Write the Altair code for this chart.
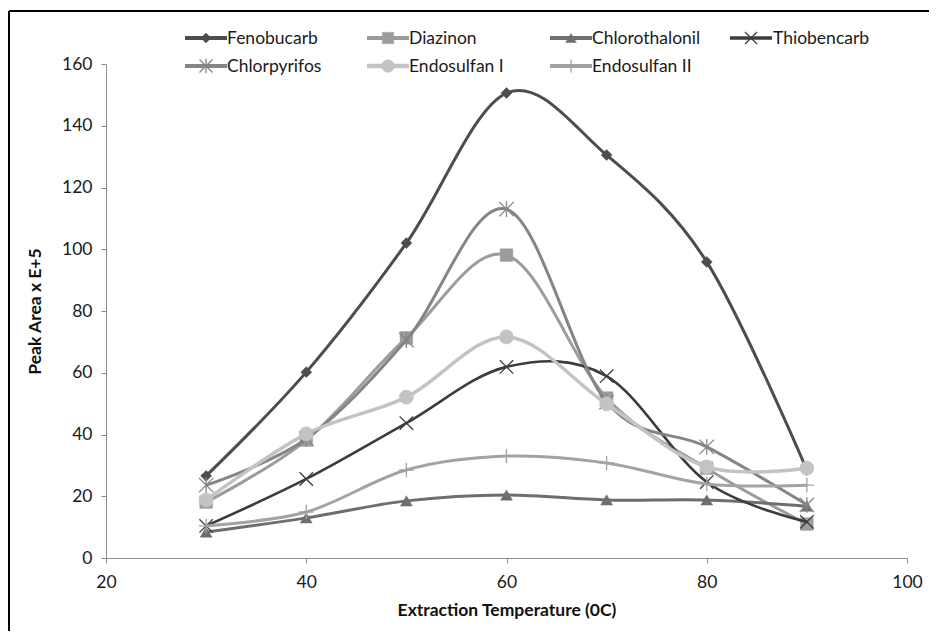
import altair as alt
import pandas as pd

temps = [30, 40, 50, 60, 70, 80, 90]
series_names = ["Fenobucarb", "Diazinon", "Chlorothalonil", "Thiobencarb",
                "Chlorpyrifos", "Endosulfan I", "Endosulfan II"]
fenobucarb = [26.6, 60.2, 102, 150.6, 130.5, 95.9, 28.5]
diazinon = [18.1, 38.2, 71.3, 98.1, 51.8, 29.1, 11]
chlorothalonil = [8.4, 13, 18.5, 20.4, 18.8, 18.8, 16.8]
thiobencarb = [10.4, 25.6, 43.7, 61.9, 58.9, 24.6, 11.7]
chlorpyrifos = [23.6, 38.6, 70.6, 113, 50.5, 36, 17.2]
endosulfan_1 = [18.8, 40.2, 52.1, 71.6, 49.9, 29.5, 29.1]
endosulfan_2 = [10.4, 14.9, 28.5, 33, 30.8, 24, 23.6]
values = [fenobucarb, diazinon, chlorothalonil, thiobencarb,
          chlorpyrifos, endosulfan_1, endosulfan_2]
x_ticks = [20, 40, 60, 80, 100]
y_ticks = [0, 20, 40, 60, 80, 100, 120, 140, 160]

XSHAPE = "M-1,-1L1,1M-1,1L1,-1"
ASTER = "M-1,-1L1,1M-1,1L1,-1M0,-1.1L0,1.1"
PLUS = "M0,-1L0,1M-1,0L1,0"

styles = [
    dict(color="#4d4d4d", sw=3, shape="diamond", filled=True, size=120),
    dict(color="#9c9c9c", sw=3, shape="square", filled=True, size=160),
    dict(color="#6e6e6e", sw=3, shape="triangle-up", filled=True, size=140),
    dict(color="#3c3c3c", sw=2.6, shape=XSHAPE, filled=False, size=180),
    dict(color="#858585", sw=3, shape=ASTER, filled=False, size=210),
    dict(color="#c3c3c3", sw=3.5, shape="circle", filled=True, size=200),
    dict(color="#a3a3a3", sw=3, shape=PLUS, filled=False, size=210),
]

FONT = "Lato"
FS = 17.5
W, H = 801, 494

x_enc = alt.X("temp:Q", scale=alt.Scale(domain=[20, 100], nice=False),
              axis=alt.Axis(values=x_ticks, title="Extraction Temperature (0C)",
                            grid=False, tickSize=5, labelPadding=10,
                            labelFlush=False, titlePadding=11))
y_enc = alt.Y("value:Q", scale=alt.Scale(domain=[0, 160], nice=False),
              axis=alt.Axis(values=y_ticks, title="Peak Area x E+5",
                            grid=False, tickSize=5, labelPadding=9,
                            labelFlush=False, titlePadding=17))

layers = []
for name, vals, st in zip(series_names, values, styles):
    df = pd.DataFrame({"temp": temps, "value": vals, "series": name})
    base = alt.Chart(df)
    layers.append(base.mark_line(interpolate="cardinal", tension=0,
                                 color=st["color"], strokeWidth=st["sw"])
                  .encode(x=x_enc, y=y_enc))
    pt_kwargs = dict(shape=st["shape"], size=st["size"], opacity=1)
    if st["filled"]:
        pt_kwargs.update(filled=True, fill=st["color"], stroke=st["color"],
                         strokeWidth=0.5)
    else:
        pt_kwargs.update(filled=False, stroke=st["color"], strokeWidth=1.3)
    layers.append(base.mark_point(**pt_kwargs).encode(x=x_enc, y=y_enc))

# custom legend (line + marker + label), two rows of four columns
sym_x = [79, 261, 444, 624]
txt_x = [121, 303, 486, 667]
row_y = [-26, 2]
for i, (name, st) in enumerate(zip(series_names, styles)):
    r, c = divmod(i, 4)
    ldf = pd.DataFrame({"series": [name]})
    lb = alt.Chart(ldf)
    y = row_y[r]
    layers.append(lb.mark_rule(color=st["color"], strokeWidth=st["sw"] + 1)
                  .encode(x=alt.value(sym_x[c]), x2=alt.value(sym_x[c] + 42),
                          y=alt.value(y)))
    pt_kwargs = dict(shape=st["shape"], size=st["size"] * 0.8, opacity=1)
    if st["filled"]:
        pt_kwargs.update(filled=True, fill=st["color"], stroke=st["color"],
                         strokeWidth=0.5)
    else:
        pt_kwargs.update(filled=False, stroke=st["color"], strokeWidth=1.3)
    layers.append(lb.mark_point(**pt_kwargs)
                  .encode(x=alt.value(sym_x[c] + 21), y=alt.value(y)))
    layers.append(lb.mark_text(align="left", baseline="middle", font=FONT,
                               fontSize=FS, color="#1a1a1a")
                  .encode(x=alt.value(txt_x[c]), y=alt.value(y + 1),
                          text="series:N"))

# outer chart frame (left and top edges)
fdf = pd.DataFrame({"k": [0]})
layers.append(alt.Chart(fdf).mark_rule(color="#000000", strokeWidth=2)
              .encode(x=alt.value(-97), y=alt.value(-53), y2=alt.value(H + 80)))
layers.append(alt.Chart(fdf).mark_rule(color="#000000", strokeWidth=2)
              .encode(x=alt.value(-97), x2=alt.value(W + 40), y=alt.value(-53)))

chart = alt.layer(*layers).properties(
    width=W, height=H,
    autosize=alt.AutoSizeParams(type="none"),
    padding={"left": 98, "top": 56, "right": 22, "bottom": 73},
).configure_view(stroke=None).configure_axis(
    domainColor="#8c8c8c", tickColor="#8c8c8c", domainWidth=1,
    labelFont=FONT, labelFontSize=FS, labelColor="#1a1a1a",
    titleFont=FONT, titleFontSize=FS, titleFontWeight="bold",
    titleColor="#111111",
)

chart.save("out.html", embed_options={"renderer": "svg", "actions": False})
